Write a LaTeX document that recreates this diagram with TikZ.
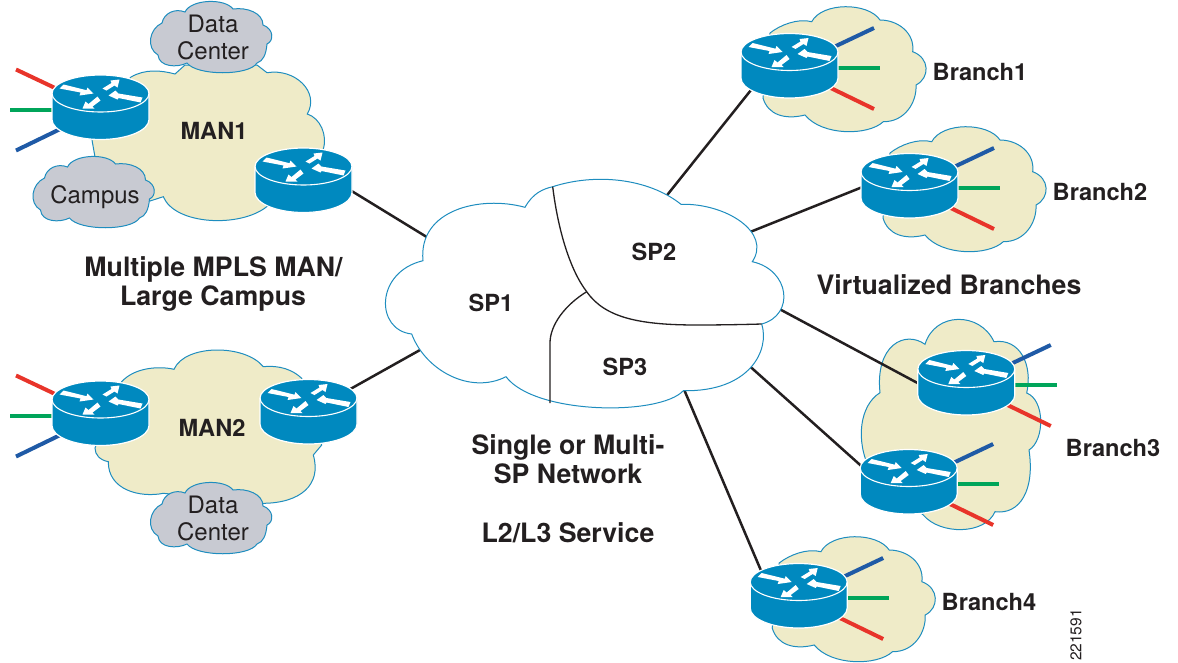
\documentclass[tikz,border=0pt]{standalone}
\usepackage{fontspec}
\setmainfont{TeX Gyre Heros}
\definecolor{rblue}{HTML}{0089BF}
\definecolor{edgeblue}{HTML}{1E8DBF}
\definecolor{cream}{HTML}{EFEBC8}
\definecolor{cloudgray}{HTML}{C8CAD2}
\definecolor{ink}{HTML}{231F20}
\definecolor{stubred}{HTML}{E8342A}
\definecolor{stubgreen}{HTML}{00A55A}
\definecolor{stubblue}{HTML}{1F5AA6}
\tikzset{
  creamcloud/.style={fill=cream,draw=edgeblue,line width=1pt},
  graycloud/.style={fill=cloudgray,draw=edgeblue,line width=1pt},
  spcloud/.style={fill=white,draw=edgeblue,line width=1pt},
  divider/.style={draw=ink,line width=1.3pt},
  link/.style={draw=ink,line width=2.5pt},
  stub/.style={line width=4pt},
  bold small/.style={font=\fontsize{23.6}{27}\selectfont\bfseries,text=ink,anchor=base,inner sep=0pt},
  bold big/.style={font=\fontsize{26.7}{29}\selectfont\bfseries,text=ink,anchor=base,inner sep=0pt},
  plain label/.style={font=\fontsize{24}{27}\selectfont,text=ink,anchor=base,inner sep=0pt},
}
% router centre coordinate and free stub ends: name, cx, cy, side
\newcommand\rtrstubs[4]{%
  \coordinate (#1) at (#2,{#3+16});
  \coordinate (#1-a) at ({#2+#4*84.5},{#3-24});
  \coordinate (#1-b) at ({#2+#4*90.5},{#3+16});
  \coordinate (#1-c) at ({#2+#4*84.5},{#3+57});
}
\newcommand\rtrbody[2]{%
  \begin{scope}[shift={(#1,#2)}]
    \path[fill=rblue,draw=white,line width=1.2pt]
      (48.5,0) .. controls (48.5,-10.2) and (26.8,-18.5) .. (0,-18.5)
      .. controls (-26.8,-18.5) and (-48.5,-10.2) .. (-48.5,0)
      -- (-48.5,26) .. controls (-48.5,37) and (-26.8,46) .. (0,46)
      .. controls (26.8,46) and (48.5,37) .. (48.5,26) -- cycle;
    \draw[white,line width=1.1pt] (-48.5,0) .. controls (-48.5,10.2) and (-26.8,18.5) .. (0,18.5)
      .. controls (26.8,18.5) and (48.5,10.2) .. (48.5,0);
    \fill[white] (-37,-9) -- (-14,-3.3) -- (-13,-6) -- (-7,0) -- (-21,2) -- (-20,-1) -- (-41,-5) -- cycle;
    \fill[white] (42,4) -- (18,0) -- (15,-3) -- (8,2) -- (17,6) -- (18,4.5) -- (40,9) -- cycle;
    \fill[white] (2,-5) -- (11,-10.5) -- (10,-13) -- (19,-14) -- (17,-6) -- (14,-8) -- (6,-3) -- cycle;
    \fill[white] (-3,3) -- (-12,10.5) -- (-15,8) -- (-18,15) -- (-6,15) -- (-8,13) -- (0,7) -- cycle;
  \end{scope}}
\newcommand\grayc[2]{%
  \begin{scope}[shift={(#1,#2)}]
    \path[graycloud] (-49,-14) .. controls (-47,-24) and (-36,-29) .. (-26,-25)
      .. controls (-20,-38) and (14,-39) .. (22,-28)
      .. controls (36,-30) and (52,-24) .. (52,-12)
      .. controls (63,-8) and (63,4) .. (56,7)
      .. controls (55,18) and (52,24) .. (46,26)
      .. controls (38,39) and (-14,39) .. (-24,26)
      .. controls (-34,31) and (-52,30) .. (-53,18)
      .. controls (-65,11) and (-62,-8) .. (-49,-14) -- cycle;
  \end{scope}}
\newcommand\branchc[2]{%
  \begin{scope}[shift={(#1,#2)}]
    \path[creamcloud] (770,33) .. controls (780,25) and (798,18) .. (811.7,21.7)
      .. controls (822,2) and (868,2) .. (880,20)
      .. controls (898,20) and (915,33) .. (912.7,51.7)
      .. controls (930,58) and (930,78) .. (916,85)
      .. controls (917,102) and (905,122) .. (883.3,121.7)
      .. controls (868,136) and (822,136) .. (805,115)
      .. controls (785,120) and (768,115) .. (763,98) -- cycle;
  \end{scope}}
\begin{document}
\begin{tikzpicture}[x=1pt,y=-1pt]
\useasboundingbox (0,0) rectangle (1178,662);
% --- clouds behind everything
\path[creamcloud] (92,140) -- (92,118) -- (131,77)
  .. controls (145,69) and (160,70) .. (175,74) -- (185,65) -- (257,65)
  -- (267,72.7) .. controls (295,68) and (320,92) .. (307.3,114)
  .. controls (320,118) and (328,135) .. (323,150) -- (300,190) -- (266.7,206.7)
  .. controls (240,228) and (175,225) .. (163.3,196.7)
  -- (150,201) -- (100,185) -- (95,157) -- cycle;
\path[creamcloud] (121.7,381.7) .. controls (135,367) and (160,366) .. (174,369.3)
  .. controls (185,344) and (245,344) .. (263.3,366.7)
  .. controls (280,365) and (293,370) .. (301.7,378.3)
  -- (321.7,445) -- (313.3,455)
  .. controls (322,485) and (300,503) .. (263.3,503.3)
  -- (163.3,493.3) .. controls (140,498) and (108,490) .. (108.3,461.7)
  .. controls (100,460) and (95,455) .. (95,448) -- cycle;
\branchc{0}{0}
\branchc{120}{120}
\branchc{9.2}{530}
\path[creamcloud] (880,392.7) .. controls (875,345) and (905,330) .. (925,344.3)
  .. controls (935,311.5) and (980,311.5) .. (994,341.7)
  .. controls (1020,338) and (1033,365) .. (1026.7,393)
  .. controls (1045,400) and (1045,440) .. (1029,450)
  .. controls (1035,490) and (1020,515) .. (995,511.7)
  .. controls (985,535) and (940,535) .. (923.3,515)
  -- (870,470) .. controls (855,440) and (860,405) .. (880,392.7) -- cycle;
\grayc{211}{37}
\grayc{93.5}{192}
\grayc{211}{518}
% --- routers: coordinates and coloured stubs
\rtrstubs{r1}{100.5}{93.5}{-1}
\rtrstubs{r2}{303.5}{166.5}{1}
\rtrstubs{r3}{100.5}{399.5}{-1}
\rtrstubs{r4}{308.5}{398}{1}
\rtrstubs{r5}{789.5}{52}{1}
\rtrstubs{r6}{909.5}{172}{1}
\rtrstubs{r7}{966.3}{369}{1}
\rtrstubs{r8}{908.7}{468}{1}
\rtrstubs{r9}{798.7}{582}{1}
\foreach \n in {r1,r3}{
  \draw[stub,stubred] (\n) -- (\n-a);
  \draw[stub,stubgreen] (\n) -- (\n-b);
  \draw[stub,stubblue] (\n) -- (\n-c);
}
\foreach \n in {r5,r6,r7,r8,r9}{
  \draw[stub,stubblue] (\n) -- (\n-a);
  \draw[stub,stubgreen] (\n) -- (\n-b);
  \draw[stub,stubred] (\n) -- (\n-c);
}
% --- links to the SP cloud
\coordinate (l1a) at (350,190);   \coordinate (l1b) at (430,239);
\coordinate (l2a) at (345,392);   \coordinate (l2b) at (420,350);
\coordinate (l3a) at (755,85);    \coordinate (l3b) at (664,199);
\coordinate (l4a) at (870,184);   \coordinate (l4b) at (745,234);
\coordinate (l5a) at (925,387);   \coordinate (l5b) at (770,304);
\coordinate (l6a) at (868,472);   \coordinate (l6b) at (745,362);
\coordinate (l7a) at (765,580);   \coordinate (l7b) at (680,380);
\foreach \n in {1,...,7}{\draw[link] (l\n a) -- (l\n b);}
% --- SP cloud
\coordinate (spA) at (552.7,186.7);
\coordinate (spD) at (761.7,324);
\coordinate (spF) at (550,403);
\coordinate (spJ) at (586.7,291.7);
\path[spcloud] (spA) .. controls (595,173) and (648,178) .. (681,204.3)
  .. controls (725,203) and (772,232) .. (752.3,261.7)
  .. controls (790,270) and (795,315) .. (spD)
  .. controls (770,350) and (750,392) .. (683.3,390.7)
  .. controls (660,416) and (535,415) .. (506,376.7)
  .. controls (470,395) and (425,370) .. (411.7,334)
  .. controls (375,330) and (375,272) .. (423,260.7)
  .. controls (418,210) and (480,195) .. (525,207.3)
  .. controls (533,193) and (543,189) .. (spA) -- cycle;
\draw[divider] (spA) .. controls (558,230) and (570,270) .. (spJ)
  .. controls (605,318) and (640,325) .. (697,325)
  .. controls (720,325) and (745,324.5) .. (spD);
\draw[divider] (spJ) .. controls (565,305) and (550,325) .. (550,343) -- (spF);
% --- router bodies
\rtrbody{100.5}{93.5}
\rtrbody{303.5}{166.5}
\rtrbody{100.5}{399.5}
\rtrbody{308.5}{398}
\rtrbody{789.5}{52}
\rtrbody{909.5}{172}
\rtrbody{966.3}{369}
\rtrbody{908.7}{468}
\rtrbody{798.7}{582}
% --- labels
\node[bold small] (man1) at (214,139) {MAN1};
\node[bold small] (man2) at (212,436) {MAN2};
\node[bold small] (sp1) at (491,311.7) {SP1};
\node[bold small] (sp2) at (654,260) {SP2};
\node[bold small] (sp3) at (625,375) {SP3};
\node[bold small] (b1) at (980,80) {Branch1};
\node[bold small] (b2) at (1100,200) {Branch2};
\node[bold small] (b3) at (1113,456) {Branch3};
\node[bold small] (b4) at (989,610) {Branch4};
\node[bold big] (mm) at (213.5,276) {Multiple MPLS MAN/};
\node[bold big] (lc) at (213,305) {Large Campus};
\node[bold big] (vb) at (949,294) {Virtualized Branches};
\node[bold big] (sm) at (568,454) {Single or Multi-};
\node[bold big] (sn) at (568,483) {SP Network};
\node[bold big] (l23) at (568,542) {L2/L3 Service};
\node[plain label] (d1a) at (213,32) {Data};
\node[plain label] (d1b) at (213,59) {Center};
\node[plain label] (cam) at (95,203) {Campus};
\node[plain label] (d2a) at (213,513) {Data};
\node[plain label] (d2b) at (213,540) {Center};
\node[text=ink,font=\fontsize{15.5}{15.5}\selectfont,rotate=90,inner sep=0pt] (id) at (1076,635) {221591};
\end{tikzpicture}
\end{document}
